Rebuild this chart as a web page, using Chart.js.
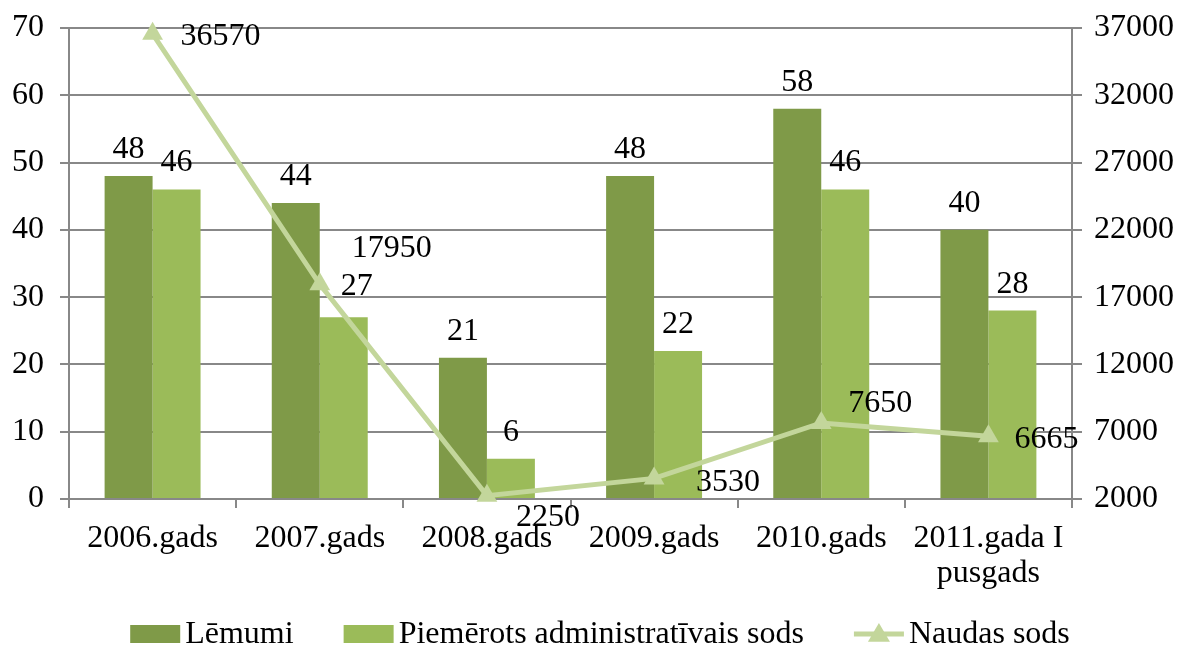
<!DOCTYPE html>
<html><head><meta charset="utf-8">
<script src="https://cdn.jsdelivr.net/npm/chart.js@4.4.1/dist/chart.umd.min.js"></script>
<style>html,body{margin:0;padding:0;background:#fff;}#wrap{width:1184px;height:646px;}</style>
</head><body><div id="wrap"><canvas id="c" width="1184" height="646"></canvas></div>
<script>
const categories = ["2006.gads","2007.gads","2008.gads","2009.gads","2010.gads",["2011.gada I","pusgads"]];
const lemumi = [48,44,21,48,58,40];
const piemerots = [46,27,6,22,46,28];
const naudasSods = [36570,17950,2250,3530,7650,6665];
const seriesNames = ["Lēmumi","Piemērots administratīvais sods","Naudas sods"];
const leftTicks = [0,10,20,30,40,50,60,70];
const rightTicks = [2000,7000,12000,17000,22000,27000,32000,37000];

const FONT = '"Liberation Serif","Times New Roman",serif';
const FS = 32;
const DARK = '#7f9a48', LIGHT = '#9bbb59', LINE = '#c3d69b', GRID = '#888888';
const lineLabelOffsets = [[28,11],[32,-27],[29,30],[42,13],[27,-11],[26,12]];

const labelPlugin = {
  id:'labels',
  afterDatasetsDraw(chart){
    const ctx = chart.ctx;
    ctx.save();
    ctx.font = FS + 'px ' + FONT;
    ctx.fillStyle = '#000';
    [0,1].forEach(di=>{
      const meta = chart.getDatasetMeta(di);
      meta.data.forEach((el,i)=>{
        let dx = 0, dy = 0;
        if (di === 1 && i === 1) { dx = 13; dy = -4; }
        ctx.textAlign='center'; ctx.textBaseline='alphabetic';
        ctx.fillText(String(chart.data.datasets[di].data[i]), el.x + dx, el.y - 18 + dy);
      });
    });
    const lm = chart.getDatasetMeta(2);
    lm.data.forEach((el,i)=>{
      const o = lineLabelOffsets[i];
      ctx.textAlign='left'; ctx.textBaseline='alphabetic';
      ctx.fillText(String(naudasSods[i]), el.x + o[0], el.y + o[1]);
    });
    ctx.restore();
  },
  afterDraw(chart){
    const ctx = chart.ctx;
    ctx.save();
    ctx.font = FS + 'px ' + FONT;
    const boxW = 50, gapT = 5, spacing = 50;
    const widths = seriesNames.map(n=>boxW+gapT+ctx.measureText(n).width);
    const total = widths.reduce((a,b)=>a+b,0) + spacing*2;
    let x = 600 - total/2;
    const cy = 634;
    seriesNames.forEach((n,i)=>{
      if(i<2){
        ctx.fillStyle = i===0?DARK:LIGHT;
        ctx.fillRect(x, cy-9, boxW, 18);
      } else {
        ctx.strokeStyle = LINE; ctx.lineWidth = 5;
        ctx.beginPath(); ctx.moveTo(x, cy); ctx.lineTo(x+boxW, cy); ctx.stroke();
        ctx.fillStyle = LINE;
        const r = 11, px = x+boxW/2;
        ctx.beginPath(); ctx.moveTo(px, cy-r); ctx.lineTo(px+r, cy+r*0.7); ctx.lineTo(px-r, cy+r*0.7); ctx.closePath(); ctx.fill();
      }
      ctx.fillStyle='#000'; ctx.textAlign='left'; ctx.textBaseline='middle';
      ctx.fillText(n, x+boxW+gapT, cy+1);
      x += widths[i] + spacing;
    });
    ctx.restore();
  }
};

new Chart(document.getElementById('c'), {
  data:{
    labels: categories,
    datasets:[
      {type:'bar', label:seriesNames[0], data:lemumi, backgroundColor:DARK, yAxisID:'y', order:2, barPercentage:1, categoryPercentage:0.574},
      {type:'bar', label:seriesNames[1], data:piemerots, backgroundColor:LIGHT, yAxisID:'y', order:2, barPercentage:1, categoryPercentage:0.574},
      {type:'line', label:seriesNames[2], data:naudasSods, borderColor:LINE, backgroundColor:LINE, borderWidth:5, pointStyle:'triangle', pointRadius:12, pointBackgroundColor:LINE, pointBorderColor:LINE, pointBorderWidth:0, yAxisID:'y1', order:0, tension:0, clip:false}
    ]
  },
  options:{
    responsive:false, animation:false, devicePixelRatio:1,
    layout:{padding:{top:28,left:0,right:0,bottom:0}},
    plugins:{legend:{display:false}, tooltip:{enabled:false}},
    scales:{
      x:{
        offset:true,
        grid:{display:true, offset:true, drawOnChartArea:false, drawTicks:true, tickLength:9, color:GRID, lineWidth:2},
        border:{display:true, color:GRID, width:2},
        ticks:{font:{family:FONT,size:FS,lineHeight:1.1}, color:'#000', padding:13, maxRotation:0, autoSkip:false},
        afterFit(s){ s.height = 147; s.paddingLeft = 0; s.paddingRight = 0; }
      },
      y:{
        position:'left', min:0, max:70,
        afterBuildTicks(s){ s.ticks = leftTicks.map(v=>({value:v})); },
        grid:{color:GRID, lineWidth:2, tickLength:9},
        border:{display:true, color:GRID, width:2},
        ticks:{font:{family:FONT,size:FS}, color:'#000', padding:16},
        afterFit(s){ s.width = 69; s.paddingTop = 0; s.paddingBottom = 0; }
      },
      y1:{
        position:'right', min:2000, max:37000,
        afterBuildTicks(s){ s.ticks = rightTicks.map(v=>({value:v})); },
        grid:{drawOnChartArea:false, color:GRID, lineWidth:2, tickLength:10},
        border:{display:true, color:GRID, width:2},
        ticks:{font:{family:FONT,size:FS}, color:'#000', padding:12, callback:(v)=>String(v)},
        afterFit(s){ s.width = 112; s.paddingTop = 0; s.paddingBottom = 0; }
      }
    }
  },
  plugins:[labelPlugin]
});
</script></body></html>
